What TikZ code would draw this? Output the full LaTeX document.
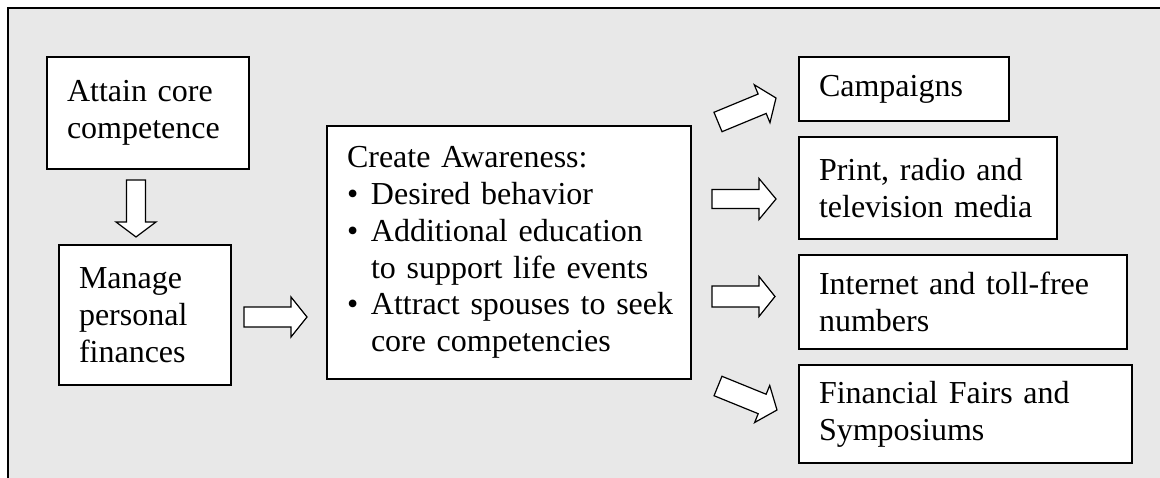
\documentclass[tikz,border=0pt]{standalone}
\usepackage{fontspec}
\setmainfont{Liberation Serif}
\usetikzlibrary{calc}
\definecolor{panelgray}{HTML}{E8E8E8}
\newcommand{\blkarrow}[5]{%
  \coordinate (hb) at ($(#2)!#5!(#1)$);
  \draw[blockarrow] ($(#1)!#3!90:(#2)$) -- ($(hb)!#3!90:(#2)$) -- ($(hb)!#4!90:(#2)$) -- (#2)
    -- ($(hb)!#4!-90:(#2)$) -- ($(hb)!#3!-90:(#2)$) -- ($(#1)!#3!-90:(#2)$) -- cycle;
}
\newcommand{\bul}{\makebox[24pt][l]{\textbullet}}
\newcommand{\boxfont}{\fontsize{32}{36.8}\selectfont\spaceskip 6.5pt\relax}
\begin{document}
\begin{tikzpicture}[x=1pt,y=-1pt,
  box/.style={draw=black, line width=1.6pt, fill=white, align=left, inner xsep=20pt,
    inner ysep=0pt, outer sep=0pt, anchor=north west, font=\boxfont},
  blockarrow/.style={draw=black, line width=1.2pt, fill=white, line join=miter}]
\useasboundingbox (0,0) rectangle (1160,478);
\fill[white] (0,0) rectangle (1160,478);
\fill[panelgray] (8,8) rectangle (1162,480);
\draw[line width=1.8pt] (8.3,480) -- (8.3,8.3) -- (1162,8.3);

\node[box, text width=162pt, minimum height=112pt] (attain) at (47,57) {\mbox{Attain core}\\\mbox{competence}};
\node[box, text width=132pt, minimum height=140pt] (manage) at (59,245) {Manage\\personal\\finances};
\node[box, text width=324pt, minimum height=253pt] (aware) at (327,126) {\mbox{Create Awareness:}\\
\mbox{\bul Desired behavior}\\
\mbox{\bul Additional education}\\
\mbox{\hspace*{24pt}to support life events}\\
\mbox{\bul Attract spouses to seek}\\
\mbox{\hspace*{24pt}core competencies}};
\node[box, text width=170pt, minimum height=64pt] (camp) at (799,57) {Campaigns};
\node[box, text width=218pt, minimum height=102pt] (print) at (799,137) {\mbox{Print, radio and}\\\mbox{television media}};
\node[box, text width=288pt, minimum height=94pt] (inet) at (799,255) {\mbox{Internet and toll-free}\\numbers};
\node[box, text width=293pt, minimum height=98pt] (fair) at (799,365) {\mbox{Financial Fairs and}\\Symposiums};

\coordinate (d1) at (136,180); \coordinate (d2) at (136,237);
\blkarrow{d1}{d2}{9.5pt}{20pt}{15pt}
\coordinate (r1) at (244,317); \coordinate (r2) at (307,317);
\blkarrow{r1}{r2}{10pt}{20pt}{16pt}
\coordinate (c1) at (718,122); \coordinate (c2) at (776,98);
\blkarrow{c1}{c2}{10.5pt}{20.5pt}{15pt}
\coordinate (p1) at (712,199); \coordinate (p2) at (776,199);
\blkarrow{p1}{p2}{9.5pt}{20.5pt}{17pt}
\coordinate (i1) at (712,296.5); \coordinate (i2) at (775,296.5);
\blkarrow{i1}{i2}{10.5pt}{20pt}{16pt}
\coordinate (f1) at (718,386); \coordinate (f2) at (777,410);
\blkarrow{f1}{f2}{10.5pt}{20pt}{16pt}
\end{tikzpicture}
\end{document}
